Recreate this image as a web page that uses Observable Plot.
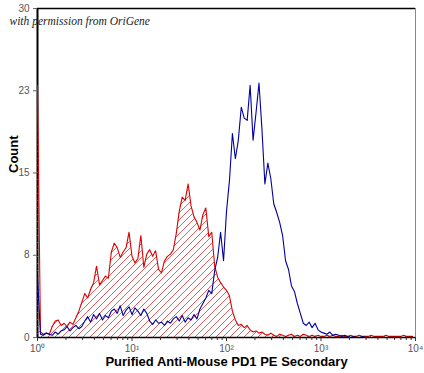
<!DOCTYPE html>
<html><head><meta charset="utf-8">
<script src="https://cdn.jsdelivr.net/npm/d3@7"></script>
<script src="https://cdn.jsdelivr.net/npm/@observablehq/plot@0.6"></script>
<style>body{margin:0;background:#fff;} #chart{width:424px;height:373px;}</style>
</head><body><div id="chart"></div>
<script>
// Histogram channels: 32 channels per decade, channel i sits at 10^(i/32)
const channelsPerDecade = 32;

// Isotype / control (red, hatched)
const redCounts = [
  23,
  0.5,0.3,0.4,0.3,
  1.0,1.5,1.6,1.1,1.3,1.0,1.4,1.2,
  1.8,2.4,
  3.2,4.0,3.6,
  4.4,5.0,
  6.5,4.8,
  5.2,5.6,5.4,
  7.8,8.6,8.2,7.3,7.8,8.2,9.6,
  7.4,6.8,7.2,9.3,6.4,
  7.6,8.0,7.4,7.9,6.2,5.9,7.0,7.4,7.6,8.0,
  9.5,11.5,12.8,12.5,14.0,12.0,11.0,10.5,9.8,11.2,11.8,9.2,9.6,
  6.5,5.5,5.0,4.6,4.3,3.8,2.4,1.6,1.1,1.2,0.9,1.1,
  0.7,0.5,0.6,0.4,0.5,
  0.3,0.2,0.4,0.2,0.1,0.3,0.2,0.1,0.2,0.3,
  0.1,0.2,0.1,0.3,0.2,0.1,0.2,0.1,0.2,0.1,
  0.1,0.2,0.1,0.2,0.1,0.1,0.2,0.1,0.1,0.2,
  0.1,0.1,0.2,0.1,0.1,0.1,0.2,0.1,0.1,0.1,
  0.1,0.2,0.1,0.1,0.1,0.1,0.1,0.2,0.1,0.1,
  0.1
];

// Anti-Mouse PD1 stained (blue)
const blueCounts = [
  5.5,
  0.3,0.2,0.4,0.3,0.2,0.5,0.3,0.6,
  0.7,1.0,0.6,0.9,1.1,0.8,1.0,
  1.5,1.9,1.4,2.1,1.7,2.2,1.6,2.0,1.8,2.4,
  2.6,2.2,2.9,2.0,2.5,2.8,2.1,2.7,2.4,2.0,2.6,2.2,
  1.5,1.2,1.6,1.3,1.4,1.1,1.5,1.3,1.7,
  1.9,1.5,2.0,1.4,1.8,1.6,2.1,1.7,
  2.6,3.1,
  3.6,4.3,4.0,6.1,7.3,9.6,7.0,11.5,14.3,18.6,
  16.3,18.0,21.0,20.0,19.8,23.0,18.0,20.5,23.2,19.0,
  14.0,15.9,14.5,12.2,11.4,10.5,9.3,7.0,6.2,4.7,
  4.2,3.1,2.2,1.3,1.1,1.4,0.9,1.3,0.7,0.5,
  0.4,0.3,0.5,0.2,0.3,0.2,0.1,0.2,
  0.1,0,0.1,0,0,0.1,0,0,0,0,0,0,0,0,0,0,0,0,0,0,0,0,0
];

const xTickValues = [1, 10, 100, 1000, 10000];
const xTickLabels = ["10\u2070", "10\u00B9", "10\u00B2", "10\u00B3", "10\u2074"];
const yTickValues = [0, 7.5, 15, 22.5, 30];
const yTickLabels = ["0", "8", "15", "23", "30"];
const xLabel = "Purified Anti-Mouse PD1 PE Secondary";
const yLabel = "Count";
const note = "with permission from OriGene";

const toRows = (counts) => counts.map((c, i) => ({x: Math.pow(10, i / channelsPerDecade), count: c}));
const red = toRows(redCounts);
const blue = toRows(blueCounts);
const xMinor = d3.range(0, 4).flatMap(d => d3.range(2, 10).map(m => m * Math.pow(10, d)));

const chart = Plot.plot({
  width: 424, height: 373,
  marginLeft: 37, marginRight: 9, marginTop: 8, marginBottom: 36,
  style: {fontFamily: "'Liberation Sans', Arial, sans-serif", background: "#fff", overflow: "visible"},
  x: {type: "log", domain: [1, 1e4]},
  y: {domain: [0, 30]},
  marks: [
    Plot.ruleX([1], {stroke: "#000", strokeWidth: 2}),
    Plot.ruleX([1e4], {stroke: "#888", strokeWidth: 1}),
    Plot.areaY(red, {x: "x", y: "count", fill: "url(#hatch)"}),
    Plot.lineY(red, {x: "x", y: "count", stroke: "#dd0000", strokeWidth: 1.1}),
    Plot.lineY(blue, {x: "x", y: "count", stroke: "#0000a0", strokeWidth: 1.1}),
    Plot.ruleY([0], {stroke: "#000", strokeWidth: 1.5}),
    Plot.ruleY([30], {stroke: "#000", strokeWidth: 1.5}),
    Plot.axisX({ticks: xMinor, tickSize: 3, tickFormat: () => "", label: null, stroke: "#333"}),
    Plot.axisX({ticks: xTickValues, tickSize: 4, tickPadding: 3, tickFormat: d => xTickLabels[xTickValues.indexOf(d)], label: null, fontSize: 10, fill: "#555", stroke: "#333"}),
    Plot.axisY({ticks: yTickValues, tickSize: 4, tickPadding: 4, tickFormat: d => yTickLabels[yTickValues.indexOf(d)], label: null, fontSize: 10, fill: "#555", stroke: "#666"}),
    Plot.text([yLabel], {frameAnchor: "left", dx: -24, rotate: -90, fontWeight: "bold", fontSize: 13, fill: "#000"}),
    Plot.text([xLabel], {frameAnchor: "bottom", dy: 28, fontWeight: "bold", fontSize: 13, fill: "#000"}),
    Plot.text([note], {frameAnchor: "top-left", dx: -28, dy: 8, textAnchor: "start", fontStyle: "italic", fontFamily: "'Liberation Serif', serif", fontSize: 11.5, fill: "#222"})
  ]
});

d3.select(chart).insert("defs", ":first-child").html(
  '<pattern id="hatch" patternUnits="userSpaceOnUse" width="7" height="7">' +
  '<path d="M-1,1 l2,-2 M0,7 l7,-7 M6,8 l2,-2" stroke="#d23a3a" stroke-width="0.8" fill="none"/></pattern>'
);

document.getElementById("chart").appendChild(chart);
</script>
</body></html>
